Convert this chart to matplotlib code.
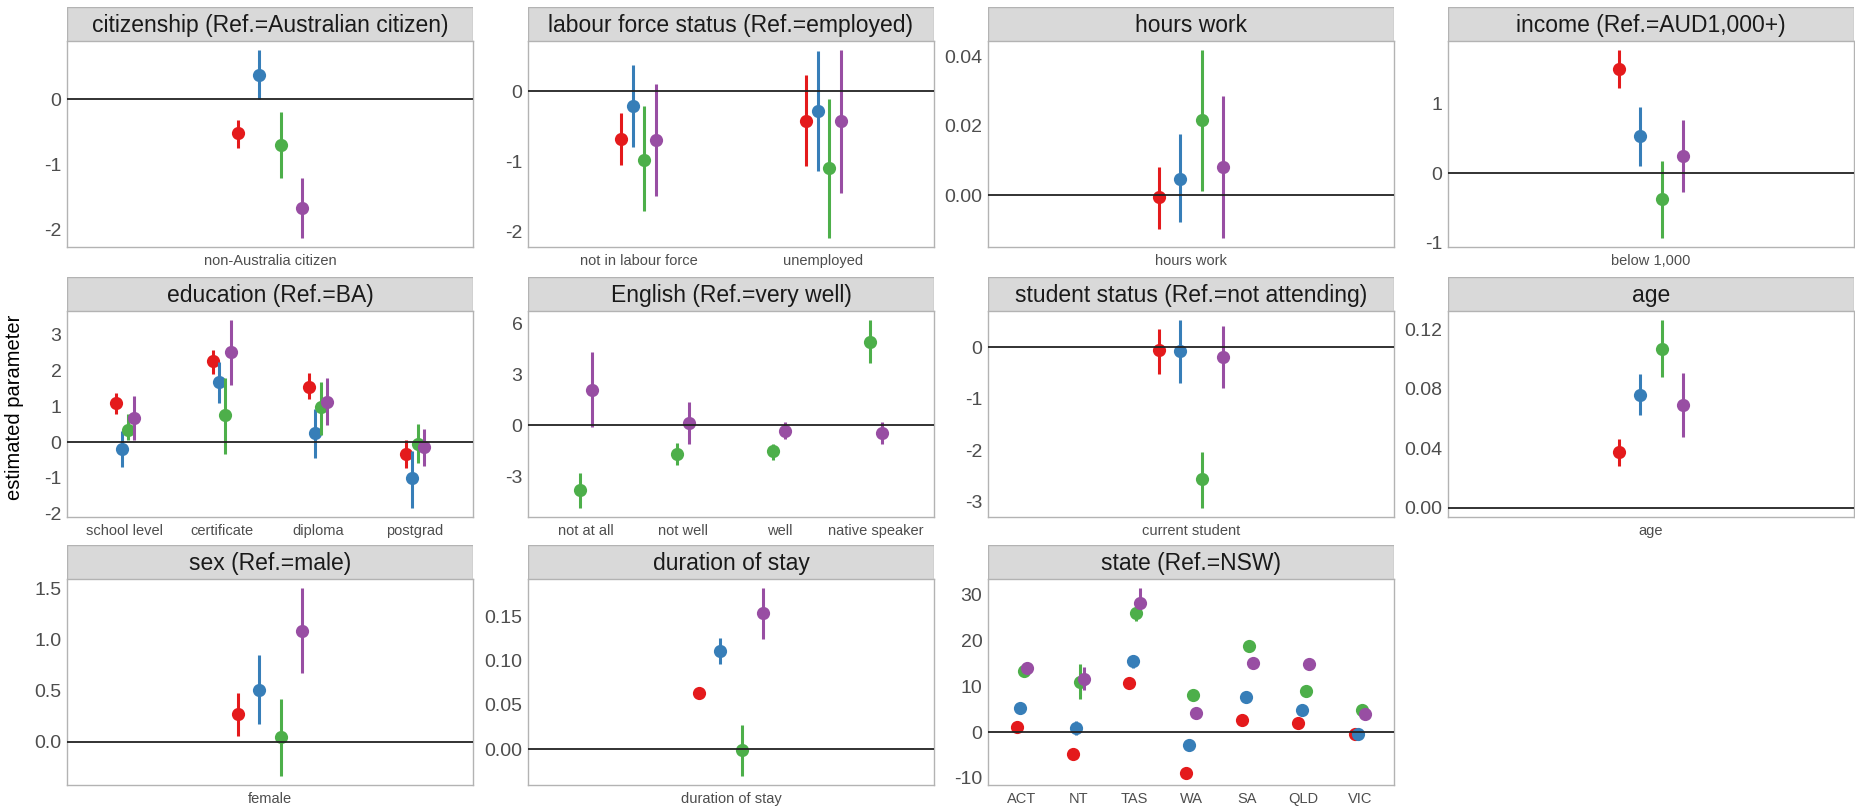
import matplotlib
matplotlib.use('Agg')
import matplotlib.pyplot as plt
from matplotlib.patches import Rectangle

plt.rcParams['font.family'] = ['Liberation Sans', 'DejaVu Sans']

# four model groups, drawn red / blue / green / purple (Set1)
group_colors = ['#E41A1C', '#377EB8', '#4DAF4A', '#984EA3']

# each *_est / *_lo / *_hi holds one list per group, one value per level
citizenship_levels = ['non-Australia citizen']
citizenship_est = [[-0.52], [0.38], [-0.70], [-1.66]]
citizenship_lo = [[-0.74], [0.00], [-1.21], [-2.12]]
citizenship_hi = [[-0.31], [0.75], [-0.19], [-1.21]]

labour_levels = ['not in labour force', 'unemployed']
labour_est = [[-0.69, -0.42], [-0.22, -0.28], [-0.98, -1.10], [-0.70, -0.43]]
labour_lo = [[-1.06, -1.07], [-0.80, -1.14], [-1.71, -2.09], [-1.50, -1.45]]
labour_hi = [[-0.31, 0.23], [0.37, 0.57], [-0.22, -0.11], [0.10, 0.58]]

hours_levels = ['hours work']
hours_est = [[-0.0007], [0.0047], [0.0216], [0.0082]]
hours_lo = [[-0.0097], [-0.0078], [0.0012], [-0.0123]]
hours_hi = [[0.0082], [0.0176], [0.0418], [0.0285]]

income_levels = ['below 1,000']
income_est = [[1.50], [0.53], [-0.38], [0.25]]
income_lo = [[1.23], [0.11], [-0.93], [-0.27]]
income_hi = [[1.77], [0.95], [0.18], [0.77]]

education_levels = ['school level', 'certificate', 'diploma', 'postgrad']
education_est = [[1.08, 2.26, 1.55, -0.35], [-0.19, 1.67, 0.24, -1.01],
                 [0.33, 0.76, 0.98, -0.06], [0.68, 2.51, 1.12, -0.14]]
education_lo = [[0.79, 1.92, 1.20, -0.74], [-0.70, 1.08, -0.44, -1.84],
                [0.07, -0.33, 0.20, -0.60], [0.07, 1.60, 0.47, -0.67]]
education_hi = [[1.36, 2.58, 1.93, 0.06], [0.30, 2.24, 0.92, -0.25],
                [0.79, 1.80, 1.69, 0.51], [1.29, 3.41, 1.80, 0.36]]

english_levels = ['not at all', 'not well', 'well', 'native speaker']
english_est = [[None] * 4, [None] * 4,
               [-3.80, -1.73, -1.53, 4.90], [2.08, 0.10, -0.33, -0.47]]
english_lo = [[None] * 4, [None] * 4,
              [-4.86, -2.37, -2.06, 3.67], [-0.12, -1.14, -0.80, -1.10]]
english_hi = [[None] * 4, [None] * 4,
              [-2.80, -1.04, -1.10, 6.16], [4.31, 1.35, 0.18, 0.18]]

student_levels = ['current student']
student_est = [[-0.06], [-0.08], [-2.56], [-0.19]]
student_lo = [[-0.52], [-0.69], [-3.11], [-0.79]]
student_hi = [[0.36], [0.52], [-2.03], [0.41]]

age_levels = ['age']
age_est = [[0.0372], [0.0760], [0.1070], [0.0690]]
age_lo = [[0.0280], [0.0623], [0.0880], [0.0478]]
age_hi = [[0.0465], [0.0897], [0.1260], [0.0904]]

sex_levels = ['female']
sex_est = [[0.27], [0.51], [0.045], [1.08]]
sex_lo = [[0.06], [0.17], [-0.33], [0.67]]
sex_hi = [[0.48], [0.85], [0.42], [1.50]]

duration_levels = ['duration of stay']
duration_est = [[0.0634], [0.111], [-0.0008], [0.154]]
duration_lo = [[0.0615], [0.096], [-0.030], [0.125]]
duration_hi = [[0.0655], [0.126], [0.0275], [0.182]]

state_levels = ['ACT', 'NT', 'TAS', 'WA', 'SA', 'QLD', 'VIC']
state_est = [[1.1, -4.7, 10.8, -8.9, 2.6, 1.9, -0.3],
             [5.2, 0.9, 15.5, -2.7, 7.6, 4.9, -0.4],
             [13.4, 10.9, 26.1, 8.2, 18.8, 8.9, 4.9],
             [13.9, 11.7, 28.3, 4.1, 15.0, 14.8, 3.9]]
state_lo = [[0.6, -5.2, 10.2, -9.5, 2.1, 1.4, -0.8],
            [4.0, -0.7, 14.1, -3.2, 7.1, 4.4, -0.9],
            [12.5, 7.2, 24.2, 7.7, 18.3, 8.4, 4.4],
            [13.3, 9.2, 26.8, 3.6, 14.5, 14.3, 3.4]]
state_hi = [[1.6, -4.2, 11.4, -8.4, 3.1, 2.4, 0.2],
            [6.3, 2.4, 16.8, -2.2, 8.1, 5.4, 0.1],
            [14.2, 14.8, 27.3, 8.7, 19.3, 9.4, 5.4],
            [14.5, 14.2, 31.4, 4.6, 15.5, 15.3, 4.4]]

# y-axis breaks per facet
citizenship_ticks = ([-2, -1, 0], ['-2', '-1', '0'])
labour_ticks = ([-2, -1, 0], ['-2', '-1', '0'])
hours_ticks = ([0.0, 0.02, 0.04], ['0.00', '0.02', '0.04'])
income_ticks = ([-1, 0, 1], ['-1', '0', '1'])
education_ticks = ([-2, -1, 0, 1, 2, 3], ['-2', '-1', '0', '1', '2', '3'])
english_ticks = ([-3, 0, 3, 6], ['-3', '0', '3', '6'])
student_ticks = ([-3, -2, -1, 0], ['-3', '-2', '-1', '0'])
age_ticks = ([0.0, 0.04, 0.08, 0.12], ['0.00', '0.04', '0.08', '0.12'])
sex_ticks = ([0.0, 0.5, 1.0, 1.5], ['0.0', '0.5', '1.0', '1.5'])
duration_ticks = ([0.0, 0.05, 0.10, 0.15], ['0.00', '0.05', '0.10', '0.15'])
state_ticks = ([-10, 0, 10, 20, 30], ['-10', '0', '10', '20', '30'])

panels = [
    ('citizenship (Ref.=Australian citizen)', citizenship_levels, citizenship_est, citizenship_lo, citizenship_hi, citizenship_ticks),
    ('labour force status (Ref.=employed)', labour_levels, labour_est, labour_lo, labour_hi, labour_ticks),
    ('hours work', hours_levels, hours_est, hours_lo, hours_hi, hours_ticks),
    ('income (Ref.=AUD1,000+)', income_levels, income_est, income_lo, income_hi, income_ticks),
    ('education (Ref.=BA)', education_levels, education_est, education_lo, education_hi, education_ticks),
    ('English (Ref.=very well)', english_levels, english_est, english_lo, english_hi, english_ticks),
    ('student status (Ref.=not attending)', student_levels, student_est, student_lo, student_hi, student_ticks),
    ('age', age_levels, age_est, age_lo, age_hi, age_ticks),
    ('sex (Ref.=male)', sex_levels, sex_est, sex_lo, sex_hi, sex_ticks),
    ('duration of stay', duration_levels, duration_est, duration_lo, duration_hi, duration_ticks),
    ('state (Ref.=NSW)', state_levels, state_est, state_lo, state_hi, state_ticks),
]

W, H = 1856, 810
col_left = [67, 528, 988, 1448]
row_top = [7, 277, 545]
panel_w, strip_h, panel_h = 406, 34, 206
dodge_width = 0.25


def px_box(x, y, w, h):
    return [x / W, 1 - (y + h) / H, w / W, h / H]


def draw_facet(ax, levels, est, lo, hi, ticks):
    values = [0.0]
    for j in range(len(levels)):
        present = [g for g in range(4) if est[g][j] is not None]
        n = len(present)
        for k, g in enumerate(present):
            x = j + 1 + (k - (n - 1) / 2) * dodge_width / n
            ax.vlines(x, lo[g][j], hi[g][j], color=group_colors[g], lw=2.2, zorder=2)
            ax.plot(x, est[g][j], 'o', ms=9.5, color=group_colors[g], mec='none', zorder=2)
            values += [lo[g][j], hi[g][j]]
    ymin, ymax = min(values), max(values)
    pad = (ymax - ymin) * 0.05
    ax.set_ylim(ymin - pad, ymax + pad)
    ax.set_xlim(0.4, len(levels) + 0.6)
    ax.axhline(0, color='#222222', lw=1.3, zorder=3)
    ax.set_xticks(range(1, len(levels) + 1))
    ax.set_xticklabels(levels, fontsize=10.5, color='#4D4D4D')
    ax.set_yticks(ticks[0])
    ax.set_yticklabels(ticks[1], fontsize=14, color='#4D4D4D')
    ax.tick_params(length=0, pad=4)
    ax.tick_params(axis='x', pad=5)
    for sp in ax.spines.values():
        sp.set_color('#B3B3B3')
        sp.set_linewidth(1.0)


fig = plt.figure(figsize=(W / 100, H / 100), dpi=100)

for i, (title, levels, est, lo, hi, ticks) in enumerate(panels):
    r, c = divmod(i, 4)
    x0, y0 = col_left[c], row_top[r]
    ax = fig.add_axes(px_box(x0, y0 + strip_h, panel_w, panel_h))
    draw_facet(ax, levels, est, lo, hi, ticks)

    strip = fig.add_axes(px_box(x0, y0, panel_w, strip_h))
    strip.set_xlim(0, 1)
    strip.set_ylim(0, 1)
    strip.axis('off')
    strip.add_patch(Rectangle((0, 0), 1, 1, transform=strip.transAxes,
                              facecolor='#D9D9D9', edgecolor='#B3B3B3', lw=1.0))
    strip.text(0.5, 0.47, title, ha='center', va='center', fontsize=16.5, color='#1A1A1A')

fig.text(15 / W, 1 - 407 / H, 'estimated parameter', rotation=90,
         ha='center', va='center', fontsize=14.5, color='#000000')

fig.savefig('out.png', dpi=100)
